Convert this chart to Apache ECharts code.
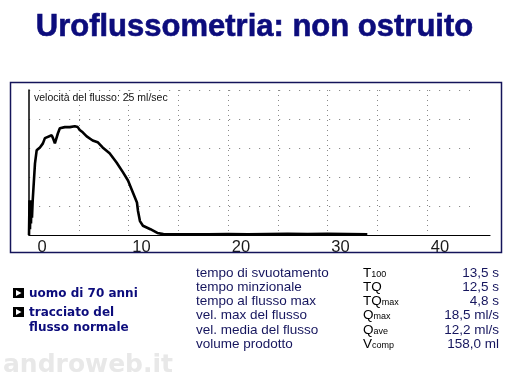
<!DOCTYPE html>
<html><head><meta charset="utf-8">
<script src="https://cdn.jsdelivr.net/npm/echarts@6/dist/echarts.min.js"></script>
<style>html,body{margin:0;padding:0;background:#fff}#c{width:509px;height:378px}</style>
</head><body><div id="c"></div>
<script>
const titleText = 'Uroflussometria: non ostruito';
const scaleNote = 'velocità del flusso: 25 ml/sec';
const timeS = [0, 0.05, 0.1, 0.15, 0.2, 0.25, 0.3, 0.37, 0.6, 0.77, 1.1, 1.4, 1.6, 1.78, 2.28, 2.41, 2.6, 2.78, 2.9, 3.1, 3.6, 4.1, 4.6, 4.9, 5.1, 5.4, 5.8, 6.4, 6.9, 7.4, 8.1, 8.8, 9.45, 9.95, 10.45, 10.85, 10.95, 11.15, 11.45, 12.2, 12.9, 13.5, 14.0, 15, 16, 18, 20, 22, 24, 26, 28, 30, 32, 34];
const flowMlS = [0, 6, 1, 6, 2, 6, 3, 5.9, 12.3, 14.6, 15.1, 15.8, 16.7, 17.0, 17.2, 16.7, 15.8, 15.8, 17.5, 18.4, 18.6, 18.6, 18.75, 18.6, 18.1, 17.7, 17.0, 16.3, 16.0, 15.1, 14.1, 12.5, 10.8, 9.4, 7.3, 5.6, 4.2, 2.4, 1.6, 1.0, 0.35, 0.15, 0.1, 0.1, 0.12, 0.1, 0.15, 0.12, 0.18, 0.2, 0.15, 0.2, 0.18, 0.1];
const xTickLabels = ['0', '10', '20', '30', '40'];
const paramNames = ['tempo di svuotamento', 'tempo minzionale', 'tempo al flusso max', 'vel. max del flusso', 'vel. media del flusso', 'volume prodotto'];
const paramSymbols = [['T', '100'], ['TQ', ''], ['TQ', 'max'], ['Q', 'max'], ['Q', 'ave'], ['V', 'comp']];
const paramValues = ['13,5 s', '12,5 s', '4,8 s', '18,5 ml/s', '12,2 ml/s', '158,0 ml'];
const notes = ['uomo di 70 anni', 'tracciato del\nflusso normale'];
const watermark = 'androweb.it';

const chart = echarts.init(document.getElementById('c'), null, {renderer: 'canvas'});
const FONT = 'Liberation Sans, Arial, sans-serif';
const WIDE = 'DejaVu Sans, Verdana, sans-serif';
const NAVY = '#0c0c7c';
const TEXT = '#16165e';

const graphics = [];
graphics.push({type: 'text', left: 'center', top: 12, style: {text: titleText, font: 'bold 31px ' + FONT, fill: NAVY, stroke: NAVY, lineWidth: 0.6}});
graphics.push({type: 'rect', shape: {x: 10.5, y: 82.5, width: 491, height: 170}, style: {fill: null, stroke: '#14145a', lineWidth: 1.5}, z: 10});
graphics.push({type: 'text', x: 34, y: 98, style: {text: scaleNote, font: '10.5px ' + FONT, fill: '#111', verticalAlign: 'middle'}, z: 10});
const rowY = [273, 287, 301.5, 315.5, 330, 344];
paramNames.forEach((n, i) => {
  graphics.push({type: 'text', x: 196, y: rowY[i], style: {text: n, font: '13.5px ' + FONT, fill: TEXT, verticalAlign: 'middle'}});
  const s = paramSymbols[i];
  graphics.push({type: 'text', x: 363, y: rowY[i], style: {text: '{b|' + s[0] + '}' + (s[1] ? '{s|' + s[1] + '}' : ''), verticalAlign: 'middle', rich: {b: {fontSize: 13.5, fontFamily: FONT, color: TEXT, verticalAlign: 'bottom'}, s: {fontSize: 9, fontFamily: FONT, color: TEXT, verticalAlign: 'bottom', padding: [0, 0, 1, 0]}}}});
  graphics.push({type: 'text', x: 499, y: rowY[i], style: {text: paramValues[i], font: '13.5px ' + FONT, fill: TEXT, align: 'right', verticalAlign: 'middle'}});
});
const noteY = [293, 312];
notes.forEach((t, i) => {
  graphics.push({type: 'rect', shape: {x: 13, y: noteY[i] - 5, width: 11, height: 10}, style: {fill: '#000'}});
  graphics.push({type: 'polygon', shape: {points: [[16, noteY[i] - 3], [16, noteY[i] + 3], [21.5, noteY[i]]]}, style: {fill: '#fff'}});
  graphics.push({type: 'text', x: 29, y: noteY[i] - 7, style: {text: t, font: 'bold 12px ' + WIDE, fill: NAVY, lineHeight: 15}});
});
graphics.push({type: 'text', x: 3, y: 353, style: {text: watermark, font: 'bold 25px ' + WIDE, fill: '#e8e8e8'}});

const pxPerS = 9.95;
const option = {
  animation: false,
  backgroundColor: '#fff',
  grid: [
    {left: 29, right: 19, top: 90, bottom: 143},
    {left: 29, width: 441, top: 90, bottom: 143}
  ],
  xAxis: [
    {type: 'value', gridIndex: 0, min: 0, max: 461 / pxPerS, interval: 10,
     axisLine: {show: true, onZero: false, lineStyle: {color: '#000', width: 1.2}},
     axisTick: {show: false}, splitLine: {show: false},
     axisLabel: {show: true, showMaxLabel: false, margin: 4, fontSize: 16.5, fontFamily: FONT, color: '#1a1a1a', padding: [0, 0, 0, 26],
       formatter: v => xTickLabels.indexOf(String(v)) >= 0 ? String(v) : ''}},
    {type: 'value', gridIndex: 1, min: 0, max: 441 / pxPerS, interval: 5,
     axisLine: {show: false}, axisTick: {show: false}, axisLabel: {show: false},
     splitLine: {show: true, showMinLine: false, showMaxLine: false, lineStyle: {color: '#8a8a8a', width: 1, type: [1, 4]}}}
  ],
  yAxis: [
    {type: 'value', gridIndex: 0, min: 0, max: 25, interval: 5,
     axisLine: {show: true, onZero: false, lineStyle: {color: '#000', width: 1.5}},
     axisTick: {show: false}, axisLabel: {show: false}, splitLine: {show: false}},
    {type: 'value', gridIndex: 1, min: 0, max: 25, interval: 5,
     axisLine: {show: false}, axisTick: {show: false}, axisLabel: {show: false},
     splitLine: {show: true, showMinLine: false, lineStyle: {color: '#8a8a8a', width: 1, type: [1.2, 8.8]}}}
  ],
  series: [{
    type: 'line', xAxisIndex: 0, yAxisIndex: 0, showSymbol: false, symbol: 'none',
    lineStyle: {color: '#000', width: 2.6}, z: 5,
    data: timeS.map((t, i) => [t, flowMlS[i]])
  }],
  graphic: graphics
};
chart.setOption(option);
</script></body></html>
